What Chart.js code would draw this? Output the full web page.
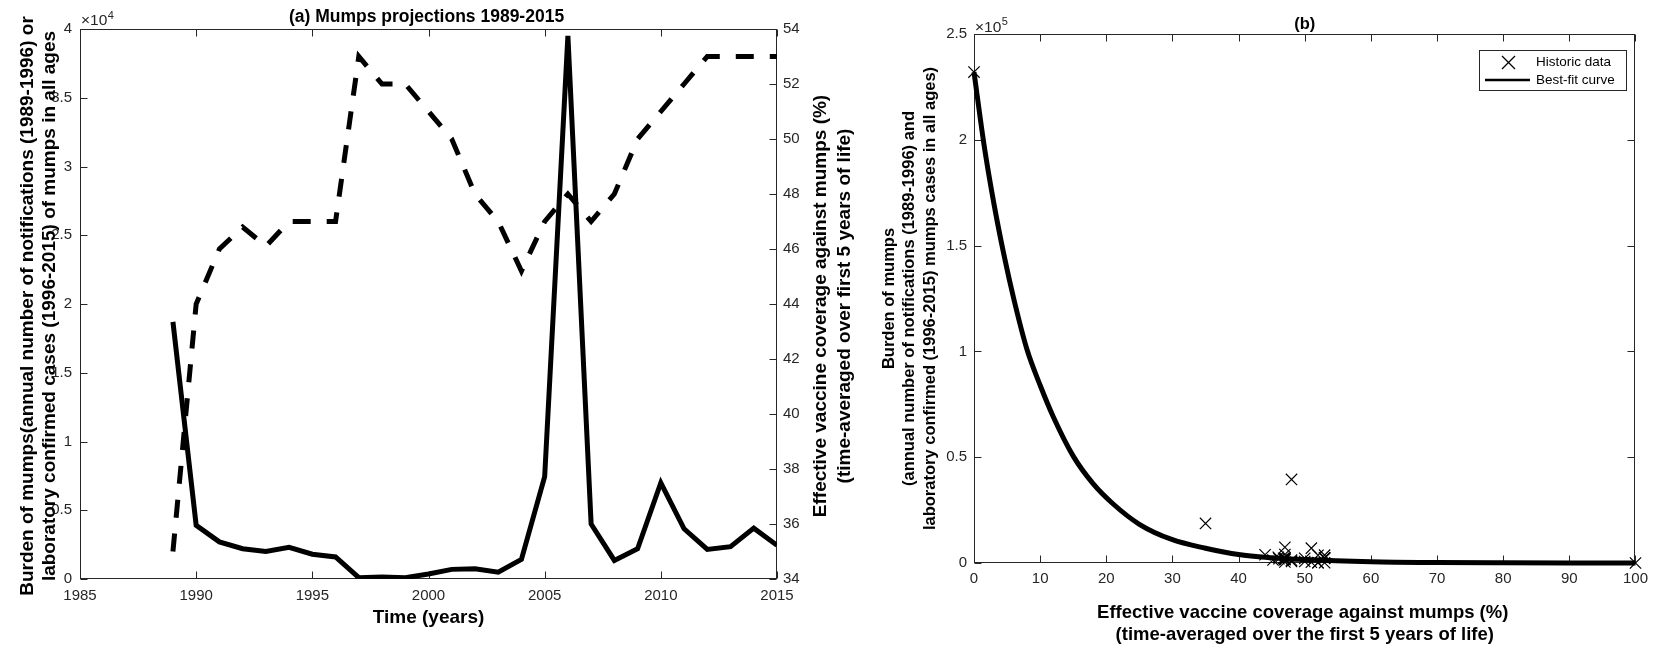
<!DOCTYPE html>
<html>
<head>
<meta charset="utf-8">
<script src="https://cdn.jsdelivr.net/npm/chart.js@4/dist/chart.umd.min.js"></script>
<style>
  html, body { margin: 0; padding: 0; background: #fff; }
  #wrapA { position: absolute; left: 0; top: 0; width: 860px; height: 648px; }
  #wrapB { position: absolute; left: 860px; top: 0; width: 795px; height: 648px; }
</style>
</head>
<body>
<div id="wrapA"><canvas id="chartA"></canvas></div>
<div id="wrapB"><canvas id="chartB"></canvas></div>
<script>
// ---- data ----
const years = [1989, 1990, 1991, 1992, 1993, 1994, 1995, 1996, 1997, 1998, 1999, 2000, 2001, 2002,
               2003, 2004, 2005, 2006, 2007, 2008, 2009, 2010, 2011, 2012, 2013, 2014, 2015];
// annual notifications / lab confirmed cases
const burden = [18700, 3900, 2700, 2200, 2000, 2300, 1800, 1600, 100, 150, 100, 360, 700, 750,
                490, 1430, 7440, 39500, 4000, 1350, 2200, 7000, 3650, 2150, 2350, 3700, 2450];
// effective vaccine coverage (%)
const coverage = [35, 44, 46, 46.8, 46.1, 47, 47, 47, 53, 52, 52, 51, 50, 48,
                  47, 45.2, 47, 48, 47, 48, 50, 51, 52, 53, 53, 53, 53];
// extra historic points at 0% and 100% coverage
const anchorCoverage = [0, 100];
const anchorBurden = [232000, 0];
// best-fit curve
const fitCoverage = [0, 1.5, 3, 4.5, 6, 8, 10, 12, 15, 18, 21, 25, 30, 35, 40, 45, 50, 60, 70, 80, 90, 100];
const fitBurden = [232000, 198000, 170000, 146000, 125000, 101000, 84000, 69000, 50500, 37500, 28000,
                   18300, 11000, 7000, 4000, 2500, 1600, 600, 220, 80, 30, 10];

const AXIS = '#262626';
const FONT = "'Liberation Sans', Arial, Helvetica, sans-serif";
const TICK = 7;

Chart.defaults.font.family = FONT;
Chart.defaults.color = AXIS;

function text(ctx, str, x, y, font, opt = {}) {
  ctx.save();
  ctx.font = font;
  ctx.fillStyle = opt.color || '#000';
  ctx.textAlign = opt.align || 'center';
  ctx.textBaseline = opt.baseline || 'middle';
  ctx.translate(x, y);
  if (opt.rotate) ctx.rotate(opt.rotate);
  ctx.fillText(str, 0, 0);
  ctx.restore();
}

// "x10^n" exponent label above the y axis
function exponent(ctx, x, y, n) {
  ctx.save();
  ctx.font = '15.5px ' + FONT;
  const w = ctx.measureText('\u00d710').width;
  ctx.restore();
  text(ctx, '\u00d710', x, y, '15.5px ' + FONT, { align: 'left', baseline: 'alphabetic', color: AXIS });
  text(ctx, String(n), x + w + 0.5, y - 6.5, '11px ' + FONT, { align: 'left', baseline: 'alphabetic', color: AXIS });
}

// box round the plot + inward ticks (matlab style)
function drawFrame(chart, sides) {
  const { ctx, chartArea: a } = chart;
  const L = Math.round(a.left) + 0.5, R = Math.round(a.right) - 0.5;
  const T = Math.round(a.top) + 0.5, B = Math.round(a.bottom) - 0.5;
  ctx.save();
  ctx.strokeStyle = AXIS;
  ctx.lineWidth = 1;
  ctx.strokeRect(L, T, R - L, B - T);
  ctx.beginPath();
  sides.forEach(([id, side]) => {
    const s = chart.scales[id];
    s.ticks.forEach((t, i) => {
      const p = Math.round(s.getPixelForTick(i)) + 0.5;
      if (side === 'bottom') { ctx.moveTo(p, B); ctx.lineTo(p, B - TICK); }
      if (side === 'top') { ctx.moveTo(p, T); ctx.lineTo(p, T + TICK); }
      if (side === 'left') { ctx.moveTo(L, p); ctx.lineTo(L + TICK, p); }
      if (side === 'right') { ctx.moveTo(R, p); ctx.lineTo(R - TICK, p); }
    });
  });
  ctx.stroke();
  ctx.restore();
}

function fixedSize(w, h) {
  return scale => {
    if (w != null) scale.width = w;
    if (h != null) scale.height = h;
  };
}

const tickFont = { size: 15 };
const noGrid = { display: false, drawTicks: false };
const noBorder = { display: false };
const UP = -Math.PI / 2;

// ---------------- panel (a) ----------------
const panelA = {
  id: 'panelA',
  beforeDatasetsDraw(chart) {
    drawFrame(chart, [['x', 'bottom'], ['x', 'top'], ['y', 'left'], ['y1', 'right']]);
  },
  afterDraw(chart) {
    const ctx = chart.ctx;
    const a = chart.chartArea;
    const cy = (a.top + a.bottom) / 2;
    const cx = (a.left + a.right) / 2;
    text(ctx, '(a) Mumps projections 1989-2015', cx - 2, 17, 'bold 17.5px ' + FONT);
    exponent(ctx, 81, 25, 4);
    const big = 'bold 19px ' + FONT;
    text(ctx, 'Burden of mumps(annual number of notifications (1989-1996) or', 28, cy + 2, big, { rotate: UP });
    text(ctx, 'laboratory confirmed cases (1996-2015) of mumps in all ages', 50, cy + 2, big, { rotate: UP });
    text(ctx, 'Effective vaccine coverage against mumps (%)', 821, cy + 2, big, { rotate: UP });
    text(ctx, '(time-averaged over first 5 years of life)', 845, cy + 2, big, { rotate: UP });
    text(ctx, 'Time (years)', cx, 618, big);
  }
};

new Chart(document.getElementById('chartA'), {
  type: 'line',
  data: {
    datasets: [
      {
        label: 'Burden',
        data: years.map((yr, i) => ({ x: yr, y: burden[i] })),
        yAxisID: 'y',
        borderColor: '#000',
        borderWidth: 5,
        pointRadius: 0,
        tension: 0
      },
      {
        label: 'Coverage',
        data: years.map((yr, i) => ({ x: yr, y: coverage[i] })),
        yAxisID: 'y1',
        borderColor: '#000',
        borderWidth: 5,
        borderDash: [18, 16],
        pointRadius: 0,
        tension: 0
      }
    ]
  },
  options: {
    responsive: true,
    maintainAspectRatio: false,
    animation: false,
    layout: { padding: { top: 29, left: 0, right: 0, bottom: 0 } },
    plugins: { legend: { display: false }, tooltip: { enabled: false } },
    scales: {
      x: {
        type: 'linear', min: 1985, max: 2015,
        ticks: { stepSize: 5, font: tickFont, padding: 8, maxRotation: 0, callback: v => String(v) },
        grid: noGrid, border: noBorder,
        afterFit: fixedSize(null, 69)
      },
      y: {
        position: 'left', min: 0, max: 40000,
        ticks: { stepSize: 5000, font: tickFont, padding: 8, callback: v => String(v / 10000) },
        grid: noGrid, border: noBorder,
        afterFit: fixedSize(80, null)
      },
      y1: {
        position: 'right', min: 34, max: 54,
        ticks: { stepSize: 2, font: tickFont, padding: 6, callback: v => String(v) },
        grid: noGrid, border: noBorder,
        afterFit: fixedSize(83, null)
      }
    }
  },
  plugins: [panelA]
});

// ---------------- panel (b) ----------------
const panelB = {
  id: 'panelB',
  beforeDatasetsDraw(chart) {
    drawFrame(chart, [['x', 'bottom'], ['x', 'top'], ['y', 'left'], ['y', 'right']]);
  },
  afterDraw(chart) {
    const ctx = chart.ctx;
    const a = chart.chartArea;
    const cy = (a.top + a.bottom) / 2;
    const cx = (a.left + a.right) / 2;
    text(ctx, '(b)', cx, 24, 'bold 16.5px ' + FONT);
    exponent(ctx, 115, 31.5, 5);
    const mid = 'bold 16.5px ' + FONT;
    text(ctx, 'Burden of mumps', 29, cy, mid, { rotate: UP });
    text(ctx, '(annual number of notifications (1989-1996) and', 49, cy, mid, { rotate: UP });
    text(ctx, 'laboratory confirmed (1996-2015) mumps cases in all ages)', 70, cy, mid, { rotate: UP });
    const xt = 'bold 18.5px ' + FONT;
    text(ctx, 'Effective vaccine coverage against mumps (%)', cx - 2, 613, xt);
    text(ctx, '(time-averaged over the first 5 years of life)', cx, 635, xt);

    // legend box
    const lx = 619.5, ly = 50.5, lw = 147, lh = 40;
    ctx.save();
    ctx.fillStyle = '#fff';
    ctx.fillRect(lx, ly, lw, lh);
    ctx.strokeStyle = AXIS;
    ctx.lineWidth = 1;
    ctx.strokeRect(lx, ly, lw, lh);
    ctx.strokeStyle = '#000';
    ctx.lineWidth = 1.3;
    ctx.beginPath();
    ctx.moveTo(642, 56); ctx.lineTo(655, 69);
    ctx.moveTo(655, 56); ctx.lineTo(642, 69);
    ctx.stroke();
    ctx.lineWidth = 2.5;
    ctx.beginPath();
    ctx.moveTo(625, 80); ctx.lineTo(670, 80);
    ctx.stroke();
    ctx.restore();
    text(ctx, 'Historic data', 676, 62.5, '13.5px ' + FONT, { align: 'left' });
    text(ctx, 'Best-fit curve', 676, 80.5, '13.5px ' + FONT, { align: 'left' });
  }
};

const histPoints = coverage.map((c, i) => ({ x: c, y: burden[i] }))
  .concat(anchorCoverage.map((c, i) => ({ x: c, y: anchorBurden[i] })));

new Chart(document.getElementById('chartB'), {
  type: 'line',
  data: {
    datasets: [
      {
        label: 'Historic data',
        data: histPoints,
        showLine: false,
        pointStyle: 'crossRot',
        pointRadius: 8,
        pointBorderWidth: 1.2,
        pointBorderColor: '#000',
        borderColor: '#000',
        clip: false
      },
      {
        label: 'Best-fit curve',
        data: fitCoverage.map((c, i) => ({ x: c, y: fitBurden[i] })),
        borderColor: '#000',
        borderWidth: 5,
        pointRadius: 0,
        cubicInterpolationMode: 'monotone',
        clip: false
      }
    ]
  },
  options: {
    responsive: true,
    maintainAspectRatio: false,
    animation: false,
    layout: { padding: { top: 34, left: 0, right: 13, bottom: 0 } },
    plugins: { legend: { display: false }, tooltip: { enabled: false } },
    scales: {
      x: {
        type: 'linear', min: 0, max: 100,
        ticks: { stepSize: 10, font: tickFont, padding: 7, maxRotation: 0, callback: v => String(v) },
        grid: noGrid, border: noBorder,
        afterFit: fixedSize(null, 85)
      },
      y: {
        position: 'left', min: 0, max: 250000,
        ticks: { stepSize: 50000, font: tickFont, padding: 7, callback: v => String(v / 100000) },
        grid: noGrid, border: noBorder,
        afterFit: fixedSize(114, null)
      }
    }
  },
  plugins: [panelB]
});
</script>
</body>
</html>
